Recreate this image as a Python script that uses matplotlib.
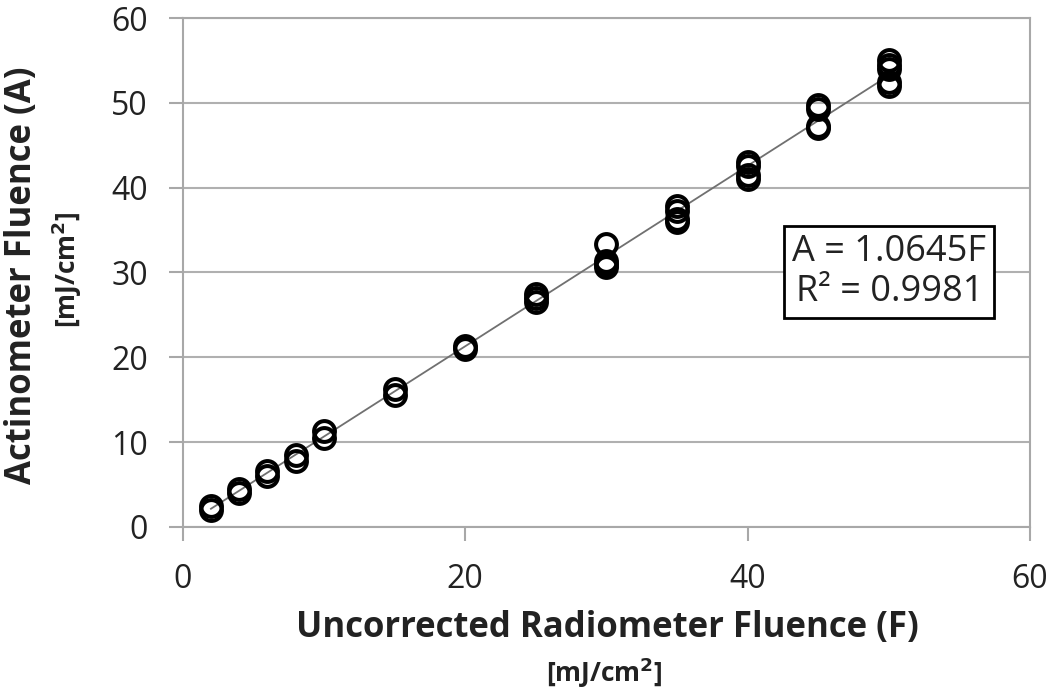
import matplotlib
matplotlib.use("Agg")
import matplotlib.pyplot as plt
import numpy as np

plt.rcParams['font.family'] = ['Open Sans', 'DejaVu Sans']

# Data (uncorrected radiometer fluence F, actinometer fluence A)
F = [2, 2, 4, 4, 6, 6, 8, 8, 10, 10, 15, 15, 20, 20,
     25, 25, 25, 30, 30, 30, 30, 35, 35, 35, 35,
     40, 40, 40, 40, 45, 45, 45, 45, 50, 50, 50, 50, 50]
A = [2.0, 2.5, 4.0, 4.5, 6.0, 6.6, 7.8, 8.5, 10.5, 11.3, 15.6, 16.2, 21.0, 21.3,
     26.5, 27.0, 27.5, 30.6, 31.0, 31.4, 33.4, 36.0, 36.3, 37.2, 37.8,
     41.0, 41.5, 42.5, 43.0, 47.0, 47.3, 49.3, 49.8, 52.0, 52.5, 54.0, 54.5, 55.0]
slope = 1.0645
fit_x = [2, 50]
xticks = [0, 20, 40, 60]
yticks = [0, 10, 20, 30, 40, 50, 60]

fig = plt.figure(figsize=(10.5, 6.95), dpi=100)
ax = fig.add_axes([0.174, 0.242, 0.807, 0.732])

ax.plot(fit_x, [slope * x for x in fit_x], color='#707070', lw=1.3, zorder=2)
ax.plot(F, A, linestyle='none', marker='o', markersize=15, markerfacecolor='none',
        markeredgecolor='black', markeredgewidth=2.9, zorder=3)

ax.set_xlim(0, 60)
ax.set_ylim(0, 60)
ax.set_xticks(xticks)
ax.set_yticks(yticks)
ax.tick_params(axis='both', labelsize=23, length=10, width=1.5, color='#a8a8a8',
               labelcolor='#222222')
ax.tick_params(axis='x', pad=16)
ax.tick_params(axis='y', pad=15)
ax.yaxis.grid(True, color='#b0b0b0', lw=1.5)
ax.set_axisbelow(True)
for s in ax.spines.values():
    s.set_color('#a8a8a8')
    s.set_linewidth(1.5)

fig.text(0.578, 0.096, 'Uncorrected Radiometer Fluence (F)', ha='center', va='center',
         fontsize=25, fontweight='bold', color='#222222')
fig.text(0.575, 0.032, '[mJ/cm$^\\mathbf{2}$]', ha='center', va='center',
         fontsize=19, fontweight='bold', color='#222222')
fig.text(0.021, 0.604, 'Actinometer Fluence (A)', ha='center', va='center', rotation=90,
         fontsize=25, fontweight='bold', color='#222222')
fig.text(0.064, 0.612, '[mJ/cm$^\\mathbf{2}$]', ha='center', va='center', rotation=90,
         fontsize=19, fontweight='bold', color='#222222')

fig.text(0.847, 0.608, 'A = 1.0645F\nR² = 0.9981',
         ha='center', va='center', fontsize=26, color='#222222', linespacing=1.15,
         bbox=dict(boxstyle='square,pad=0.22', facecolor='white', edgecolor='black', lw=2))

fig.savefig('out.png', dpi=100)
